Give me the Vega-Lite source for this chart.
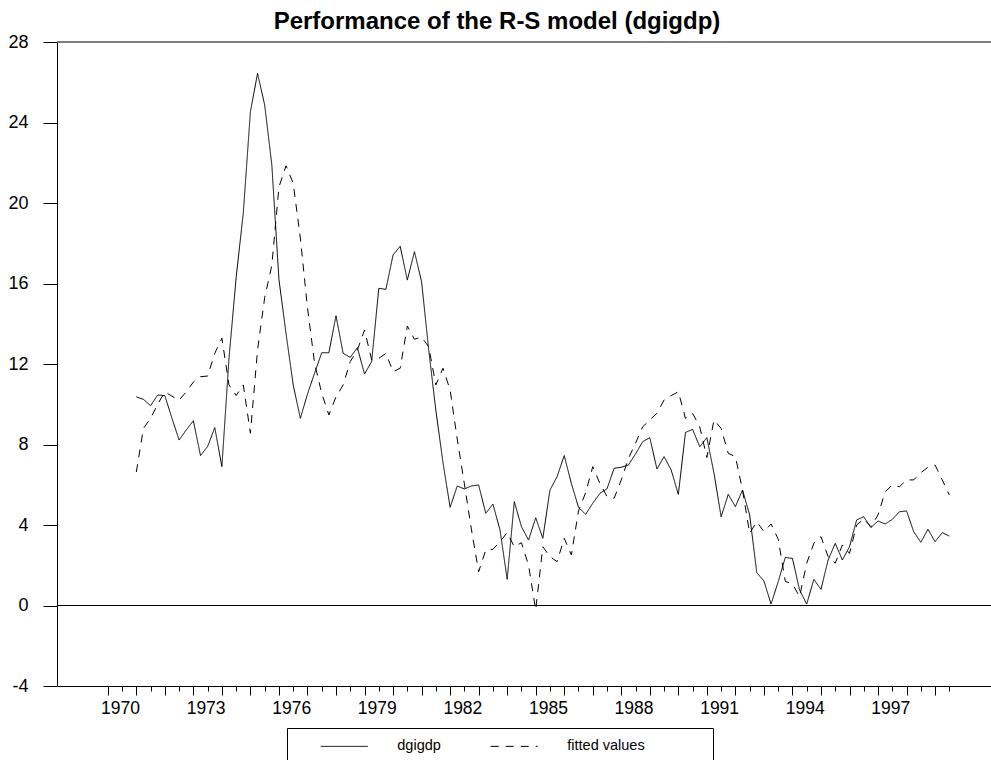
{
  "$schema": "https://vega.github.io/schema/vega-lite/v6.json",
  "width": 934,
  "height": 644,
  "autosize": {"type": "none"},
  "padding": {"left": 57, "top": 42, "right": 0, "bottom": 74},
  "background": "white",
  "title": {"text": "Performance of the R-S model (dgigdp)", "font": "Liberation Sans", "fontSize": 24, "fontWeight": "bold", "color": "black", "anchor": "middle", "dx": -27, "baseline": "alphabetic", "offset": -20},
  "config": {"view": {"stroke": null}},
  "layer": [
    {
      "data": {"values": [
        {"t": 1971.00, "dgigdp": 10.37, "fitted values": 6.63},
        {"t": 1971.25, "dgigdp": 10.24, "fitted values": 8.8},
        {"t": 1971.50, "dgigdp": 9.93, "fitted values": 9.3},
        {"t": 1971.75, "dgigdp": 10.46, "fitted values": 10.0},
        {"t": 1972.00, "dgigdp": 10.43, "fitted values": 10.62},
        {"t": 1972.25, "dgigdp": 9.30, "fitted values": 10.4},
        {"t": 1972.50, "dgigdp": 8.22, "fitted values": 10.2},
        {"t": 1972.75, "dgigdp": 8.72, "fitted values": 10.62},
        {"t": 1973.00, "dgigdp": 9.18, "fitted values": 11.1},
        {"t": 1973.25, "dgigdp": 7.45, "fitted values": 11.37},
        {"t": 1973.50, "dgigdp": 7.90, "fitted values": 11.40},
        {"t": 1973.75, "dgigdp": 8.84, "fitted values": 12.53},
        {"t": 1974.00, "dgigdp": 6.90, "fitted values": 13.28},
        {"t": 1974.25, "dgigdp": 12.3, "fitted values": 10.96},
        {"t": 1974.50, "dgigdp": 16.3, "fitted values": 10.43},
        {"t": 1974.75, "dgigdp": 19.5, "fitted values": 10.96},
        {"t": 1975.00, "dgigdp": 24.54, "fitted values": 8.56},
        {"t": 1975.25, "dgigdp": 26.44, "fitted values": 12.7},
        {"t": 1975.50, "dgigdp": 24.87, "fitted values": 15.3},
        {"t": 1975.75, "dgigdp": 21.9, "fitted values": 16.9},
        {"t": 1976.00, "dgigdp": 16.2, "fitted values": 20.8},
        {"t": 1976.25, "dgigdp": 13.5, "fitted values": 21.85},
        {"t": 1976.50, "dgigdp": 10.96, "fitted values": 20.98},
        {"t": 1976.75, "dgigdp": 9.30, "fitted values": 18.26},
        {"t": 1977.00, "dgigdp": 10.5, "fitted values": 14.8},
        {"t": 1977.25, "dgigdp": 11.55, "fitted values": 12.03},
        {"t": 1977.50, "dgigdp": 12.56, "fitted values": 10.54},
        {"t": 1977.75, "dgigdp": 12.56, "fitted values": 9.47},
        {"t": 1978.00, "dgigdp": 14.4, "fitted values": 10.37},
        {"t": 1978.25, "dgigdp": 12.53, "fitted values": 10.96},
        {"t": 1978.50, "dgigdp": 12.33, "fitted values": 12.12},
        {"t": 1978.75, "dgigdp": 12.81, "fitted values": 12.7},
        {"t": 1979.00, "dgigdp": 11.5, "fitted values": 13.69},
        {"t": 1979.25, "dgigdp": 12.12, "fitted values": 12.2},
        {"t": 1979.50, "dgigdp": 15.76, "fitted values": 12.28},
        {"t": 1979.75, "dgigdp": 15.71, "fitted values": 12.53},
        {"t": 1980.00, "dgigdp": 17.42, "fitted values": 11.62},
        {"t": 1980.25, "dgigdp": 17.85, "fitted values": 11.79},
        {"t": 1980.50, "dgigdp": 16.17, "fitted values": 13.89},
        {"t": 1980.75, "dgigdp": 17.58, "fitted values": 13.23},
        {"t": 1981.00, "dgigdp": 16.09, "fitted values": 13.33},
        {"t": 1981.25, "dgigdp": 12.7, "fitted values": 12.86},
        {"t": 1981.50, "dgigdp": 9.7, "fitted values": 10.96},
        {"t": 1981.75, "dgigdp": 7.1, "fitted values": 11.79},
        {"t": 1982.00, "dgigdp": 4.88, "fitted values": 10.71},
        {"t": 1982.25, "dgigdp": 5.94, "fitted values": 8.27},
        {"t": 1982.50, "dgigdp": 5.79, "fitted values": 6.04},
        {"t": 1982.75, "dgigdp": 5.94, "fitted values": 3.75},
        {"t": 1983.00, "dgigdp": 5.99, "fitted values": 1.68},
        {"t": 1983.25, "dgigdp": 4.58, "fitted values": 2.76},
        {"t": 1983.50, "dgigdp": 5.04, "fitted values": 2.79},
        {"t": 1983.75, "dgigdp": 3.75, "fitted values": 3.17},
        {"t": 1984.00, "dgigdp": 1.30, "fitted values": 3.62},
        {"t": 1984.25, "dgigdp": 5.16, "fitted values": 2.92},
        {"t": 1984.50, "dgigdp": 3.92, "fitted values": 3.12},
        {"t": 1984.75, "dgigdp": 3.25, "fitted values": 2.0},
        {"t": 1985.00, "dgigdp": 4.36, "fitted values": -0.22},
        {"t": 1985.25, "dgigdp": 3.34, "fitted values": 2.92},
        {"t": 1985.50, "dgigdp": 5.74, "fitted values": 2.43},
        {"t": 1985.75, "dgigdp": 6.40, "fitted values": 2.18},
        {"t": 1986.00, "dgigdp": 7.45, "fitted values": 3.34},
        {"t": 1986.25, "dgigdp": 6.07, "fitted values": 2.51},
        {"t": 1986.50, "dgigdp": 4.88, "fitted values": 4.7},
        {"t": 1986.75, "dgigdp": 4.53, "fitted values": 5.6},
        {"t": 1987.00, "dgigdp": 5.08, "fitted values": 6.90},
        {"t": 1987.25, "dgigdp": 5.57, "fitted values": 6.07},
        {"t": 1987.50, "dgigdp": 5.80, "fitted values": 5.41},
        {"t": 1987.75, "dgigdp": 6.82, "fitted values": 5.33},
        {"t": 1988.00, "dgigdp": 6.87, "fitted values": 6.24},
        {"t": 1988.25, "dgigdp": 6.98, "fitted values": 7.31},
        {"t": 1988.50, "dgigdp": 7.53, "fitted values": 8.06},
        {"t": 1988.75, "dgigdp": 8.14, "fitted values": 8.88},
        {"t": 1989.00, "dgigdp": 8.34, "fitted values": 9.22},
        {"t": 1989.25, "dgigdp": 6.78, "fitted values": 9.55},
        {"t": 1989.50, "dgigdp": 7.40, "fitted values": 10.21},
        {"t": 1989.75, "dgigdp": 6.73, "fitted values": 10.43},
        {"t": 1990.00, "dgigdp": 5.52, "fitted values": 10.62},
        {"t": 1990.25, "dgigdp": 8.60, "fitted values": 9.30},
        {"t": 1990.50, "dgigdp": 8.75, "fitted values": 9.55},
        {"t": 1990.75, "dgigdp": 7.89, "fitted values": 8.88},
        {"t": 1991.00, "dgigdp": 8.34, "fitted values": 7.35},
        {"t": 1991.25, "dgigdp": 6.57, "fitted values": 9.22},
        {"t": 1991.50, "dgigdp": 4.41, "fitted values": 8.80},
        {"t": 1991.75, "dgigdp": 5.52, "fitted values": 7.56},
        {"t": 1992.00, "dgigdp": 4.91, "fitted values": 7.40},
        {"t": 1992.25, "dgigdp": 5.74, "fitted values": 5.74},
        {"t": 1992.50, "dgigdp": 4.50, "fitted values": 3.59},
        {"t": 1992.75, "dgigdp": 1.63, "fitted values": 4.16},
        {"t": 1993.00, "dgigdp": 1.22, "fitted values": 3.67},
        {"t": 1993.25, "dgigdp": 0.07, "fitted values": 4.05},
        {"t": 1993.50, "dgigdp": 1.18, "fitted values": 3.3},
        {"t": 1993.75, "dgigdp": 2.39, "fitted values": 1.2},
        {"t": 1994.00, "dgigdp": 2.34, "fitted values": 1.07},
        {"t": 1994.25, "dgigdp": 0.77, "fitted values": 0.44},
        {"t": 1994.50, "dgigdp": 0.07, "fitted values": 2.10},
        {"t": 1994.75, "dgigdp": 1.30, "fitted values": 3.09},
        {"t": 1995.00, "dgigdp": 0.80, "fitted values": 3.42},
        {"t": 1995.25, "dgigdp": 2.26, "fitted values": 2.43},
        {"t": 1995.50, "dgigdp": 3.09, "fitted values": 2.10},
        {"t": 1995.75, "dgigdp": 2.26, "fitted values": 3.01},
        {"t": 1996.00, "dgigdp": 2.92, "fitted values": 2.59},
        {"t": 1996.25, "dgigdp": 4.25, "fitted values": 4.0},
        {"t": 1996.50, "dgigdp": 4.41, "fitted values": 4.3},
        {"t": 1996.75, "dgigdp": 3.87, "fitted values": 3.92},
        {"t": 1997.00, "dgigdp": 4.20, "fitted values": 4.50},
        {"t": 1997.25, "dgigdp": 4.05, "fitted values": 5.65},
        {"t": 1997.50, "dgigdp": 4.28, "fitted values": 5.99},
        {"t": 1997.75, "dgigdp": 4.66, "fitted values": 5.90},
        {"t": 1998.00, "dgigdp": 4.70, "fitted values": 6.24},
        {"t": 1998.25, "dgigdp": 3.67, "fitted values": 6.24},
        {"t": 1998.50, "dgigdp": 3.14, "fitted values": 6.60},
        {"t": 1998.75, "dgigdp": 3.79, "fitted values": 6.87},
        {"t": 1999.00, "dgigdp": 3.17, "fitted values": 6.98},
        {"t": 1999.25, "dgigdp": 3.62, "fitted values": 6.24},
        {"t": 1999.50, "dgigdp": 3.45, "fitted values": 5.49}
      ]},
      "transform": [{"fold": ["dgigdp", "fitted values"], "as": ["series", "value"]}],
      "mark": {"type": "line", "color": "black", "strokeWidth": 1},
      "encoding": {
        "x": {
          "field": "t", "type": "quantitative",
          "scale": {"domain": [1968.22, 2000.96], "nice": false, "zero": false},
          "axis": {
            "title": null, "grid": false,
            "values": [1970, 1970.5, 1971, 1971.5, 1972, 1972.5, 1973, 1973.5, 1974, 1974.5, 1975, 1975.5, 1976, 1976.5, 1977, 1977.5, 1978, 1978.5, 1979, 1979.5, 1980, 1980.5, 1981, 1981.5, 1982, 1982.5, 1983, 1983.5, 1984, 1984.5, 1985, 1985.5, 1986, 1986.5, 1987, 1987.5, 1988, 1988.5, 1989, 1989.5, 1990, 1990.5, 1991, 1991.5, 1992, 1992.5, 1993, 1993.5, 1994, 1994.5, 1995, 1995.5, 1996, 1996.5, 1997, 1997.5, 1998, 1998.5, 1999, 1999.5],
            "labelExpr": "(datum.value % 1 == 0.5 && (datum.value - 1970.5) % 3 == 0) ? '' + floor(datum.value) : ''",
            "tickSize": {"condition": {"test": "datum.value % 1 == 0", "value": 9}, "value": 5},
            "labelPadding": 8, "labelOffset": -2,
            "labelFont": "Liberation Sans", "labelFontSize": 17.5, "labelColor": "black",
            "labelOverlap": false, "labelBound": false, "labelFlush": false,
            "tickColor": "black", "domainColor": "black"
          }
        },
        "y": {
          "field": "value", "type": "quantitative",
          "scale": {"domain": [-4, 28], "nice": false, "zero": false},
          "axis": {
            "title": null, "grid": false,
            "values": [-4, 0, 4, 8, 12, 16, 20, 24, 28],
            "labelExpr": "'' + datum.value",
            "tickSize": 14, "labelPadding": 15,
            "labelFont": "Liberation Sans", "labelFontSize": 18, "labelColor": "black",
            "labelOverlap": false, "labelBound": false, "labelFlush": false,
            "tickColor": "black", "domainColor": "black"
          }
        },
        "strokeDash": {
          "field": "series", "type": "nominal",
          "scale": {"domain": ["dgigdp", "fitted values"], "range": [[1, 0], [8, 7]]},
          "legend": {
            "orient": "none", "legendX": 230, "legendY": 686, "direction": "horizontal",
            "title": null, "symbolType": "M-5,0H5", "symbolSize": 88.4,
            "symbolStrokeWidth": 1, "symbolStrokeColor": "black",
            "strokeColor": "black", "fillColor": "white", "padding": 11,
            "symbolOffset": 39, "labelOffset": 45.8, "columnPadding": 27,
            "labelFont": "Liberation Sans", "labelFontSize": 14.5, "labelColor": "black", "labelLimit": 400,
            "labelExpr": "datum.label == 'fitted values' ? datum.label + '\u00a0\u00a0\u00a0\u00a0\u00a0\u00a0\u00a0\u00a0\u00a0\u00a0\u00a0\u00a0\u00a0\u00a0\u200b' : datum.label"
          }
        }
      }
    },
    {
      "data": {"values": [{}]},
      "mark": {"type": "rule", "color": "black", "strokeWidth": 1},
      "encoding": {"y": {"datum": 28}}
    },
    {
      "data": {"values": [{}]},
      "mark": {"type": "rule", "color": "black", "strokeWidth": 1},
      "encoding": {"y": {"datum": 0}}
    }
  ]
}
